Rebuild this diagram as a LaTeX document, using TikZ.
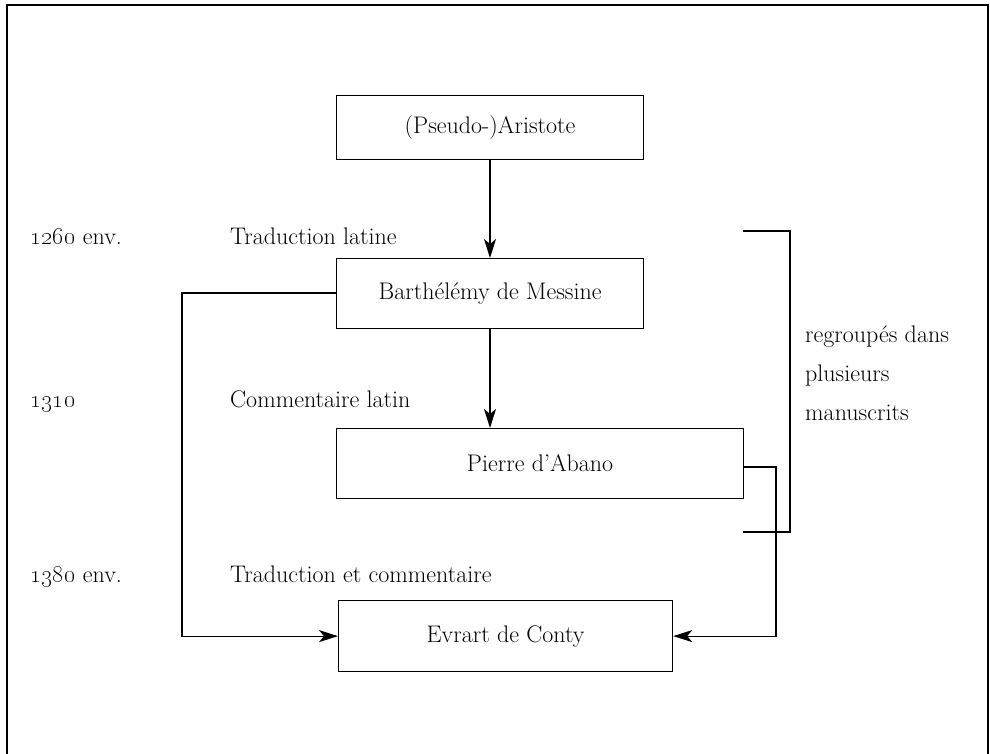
\documentclass[tikz,border=0pt]{standalone}
\usetikzlibrary{arrows.meta}
\begin{document}
\begin{tikzpicture}[x=1pt,y=-1pt,
  every node/.style={font=\fontsize{24}{39}\selectfont},
  box/.style={draw,line width=1.2pt,inner sep=0pt,anchor=north west},
  conn/.style={line width=1.2pt},
  arr/.style={conn,-{Stealth[length=19pt,width=12pt,inset=5pt]}},
  lbl/.style={anchor=base west,inner sep=0pt}]
\useasboundingbox (0,0) rectangle (990,753);
\begin{scope}
\clip (0,0) rectangle (990,753);
\draw[line width=2pt] (7,770) -- (7,5) -- (988,5) -- (988,770);
\end{scope}
% boxes
\node[box,minimum width=307pt,minimum height=64pt] (ari) at (336,95) {(Pseudo-)Aristote};
\node[box,minimum width=307pt,minimum height=70pt] (bar) at (336,258) {Barthélémy de Messine};
\node[box,minimum width=407pt,minimum height=70pt] (pie) at (336,428) {Pierre d'Abano};
\node[box,minimum width=334pt,minimum height=71pt] (evr) at (338,600) {Evrart de Conty};
% labels
\node[lbl] (d1) at (30,244) {\oldstylenums{1260} env.};
\node[lbl] (t1) at (230,244) {Traduction latine};
\node[lbl] (d2) at (30,407) {\oldstylenums{1310}};
\node[lbl] (t2) at (230,407) {Commentaire latin};
\node[lbl] (d3) at (30,582) {\oldstylenums{1380} env.};
\node[lbl] (t3) at (230,582) {Traduction et commentaire};
\node[anchor=north west,inner sep=0pt,align=left] (reg) at (805,326) {regroupés dans\\plusieurs\\manuscrits};
% connectors
\draw[arr] (ari.south -| 490,0) -- (bar.north -| 490,0);
\draw[arr] (bar.south -| 490,0) -- (pie.north -| 490,0);
\coordinate (lc) at (182,293);
\draw[arr] (bar.west |- lc) -- (lc) -- (lc |- evr.west) -- (evr.west);
\coordinate (rc) at (776,467);
\draw[arr] (pie.east |- rc) -- (rc) -- (rc |- evr.east) -- (evr.east);
\coordinate (b1) at (743,231);
\coordinate (b2) at (790,231);
\coordinate (b3) at (790,532);
\coordinate (b4) at (743,532);
\draw[conn] (b1) -- (b2) -- (b3) -- (b4);
\end{tikzpicture}
\end{document}
